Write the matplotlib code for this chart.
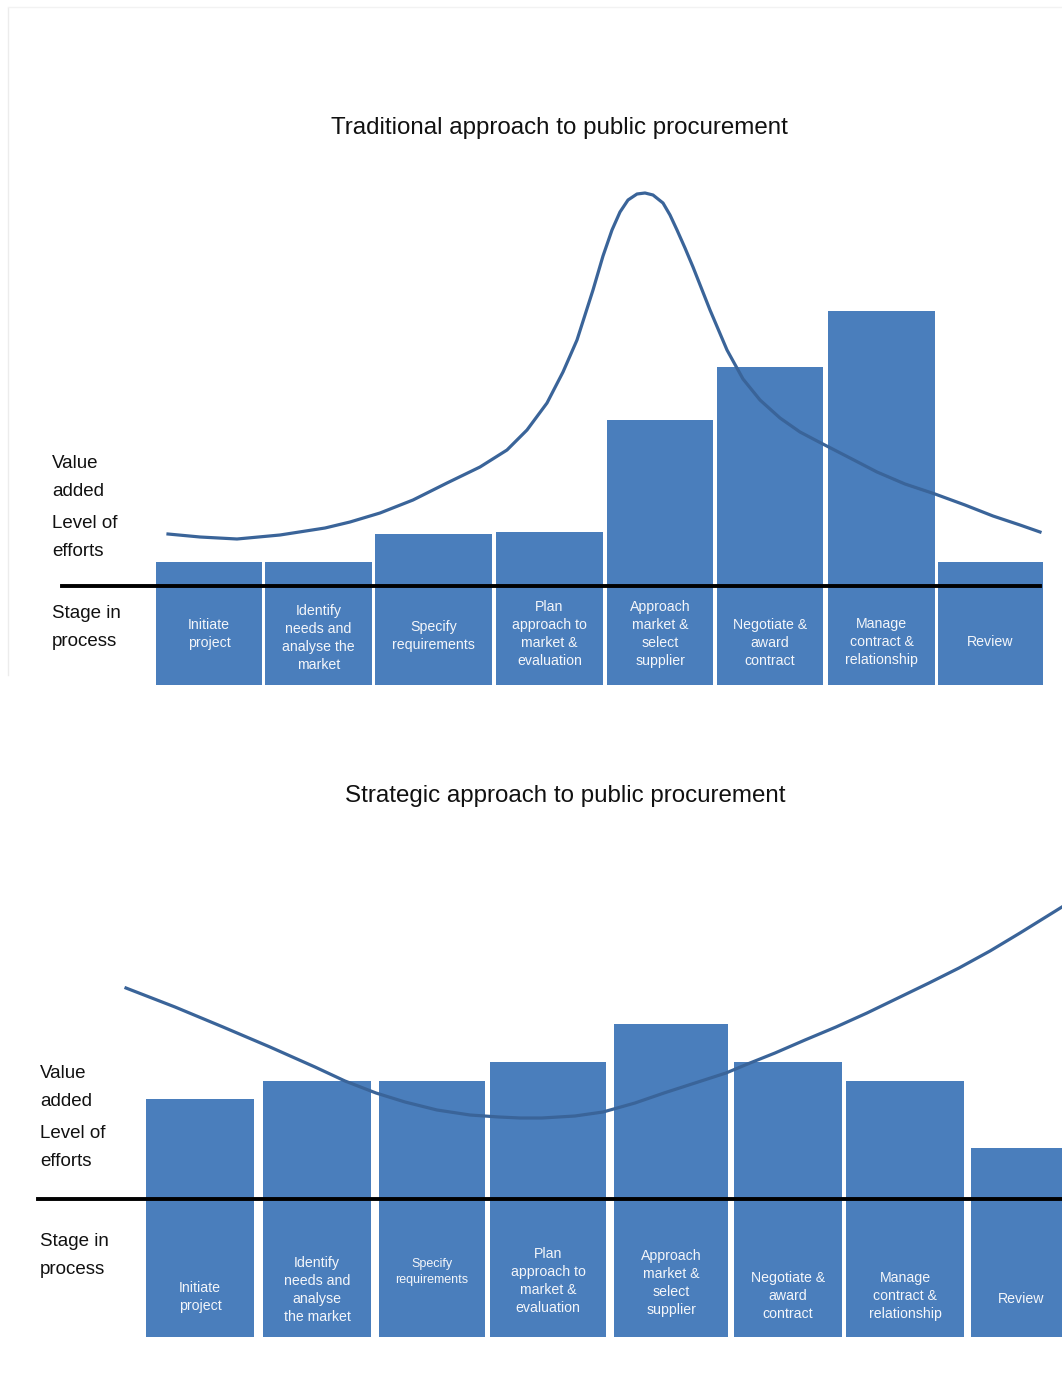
import matplotlib.pyplot as plt

# stage names (same eight stages in both diagrams)
stages_top = ["Initiate\nproject", "Identify\nneeds and\nanalyse the\nmarket",
              "Specify\nrequirements", "Plan\napproach to\nmarket &\nevaluation",
              "Approach\nmarket &\nselect\nsupplier", "Negotiate &\naward\ncontract",
              "Manage\ncontract &\nrelationship", "Review"]
stages_bottom = ["Initiate\nproject", "Identify\nneeds and\nanalyse\nthe market",
                 "Specify\nrequirements", "Plan\napproach to\nmarket &\nevaluation",
                 "Approach\nmarket &\nselect\nsupplier", "Negotiate &\naward\ncontract",
                 "Manage\ncontract &\nrelationship", "Review"]

# level of effort per stage (height above the process line)
effort_trad = [24, 24, 52, 54, 166, 219, 275, 24]
effort_strat = [100, 118, 118, 137, 175, 137, 118, 51]

# value-added curves
trad_x = [168, 200, 237, 280, 325, 350, 380, 413, 447, 480, 507, 527, 547, 563,
          577, 593, 603, 612, 620, 628, 637, 645, 653, 663, 670, 677, 685, 693,
          710, 727, 743, 760, 780, 800, 819, 850, 877, 905, 935, 965, 993, 1020, 1040]
trad_val = [52, 49, 47, 51, 58, 64, 73, 86, 103, 119, 136, 156, 183, 214,
            246, 296, 330, 356, 374, 386, 392, 393, 391, 383, 371, 356, 338, 319,
            276, 236, 207, 186, 168, 154, 144, 128, 114, 102, 92, 81, 70, 61, 54]
strat_x = [126, 175, 223, 270, 315, 345, 376, 405, 437, 470, 499, 520, 542, 575,
           603, 635, 664, 695, 726, 750, 775, 805, 836, 867, 898, 929, 959, 990,
           1020, 1070]
strat_val = [211, 192, 172, 152, 132, 118, 106, 97, 89, 84, 82, 81, 81, 83,
             87, 96, 106, 116, 126, 136, 146, 159, 172, 186, 201, 216, 231, 248,
             266, 297]

# bar layout (pixel units)
left_top = [156, 265, 375, 496, 607, 717, 828, 938]
width_top = [106, 107, 117, 107, 106, 106, 107, 105]
left_bot = [146, 263, 379, 490, 614, 734, 846, 971]
width_bot = [108, 108, 106, 116, 114, 108, 118, 100]

plt.rcParams["font.family"] = "Liberation Sans"

BAR = "#4a7ebc"
CURVE = "#3a6499"

W, H = 1062, 1396
fig = plt.figure(figsize=(W / 100, H / 100), dpi=100)

# faint frame round the upper diagram
fig.add_artist(plt.Line2D([8 / W, 8 / W], [1 - 8 / H, 1 - 675 / H], color="#ececec", lw=1))
fig.add_artist(plt.Line2D([8 / W, 1], [1 - 7 / H, 1 - 7 / H], color="#f2f2f2", lw=1))


def panel(row0, row1, base_row, title, title_x, title_row, stages, effort, lefts, widths,
          box_bottom, cx, cy, line_x0, line_x1, label_x, label_rows, stage_rows, small=None):
    ax = fig.add_axes([0, 1 - row1 / H, 1, (row1 - row0) / H])
    ax.set_xlim(0, W)
    ax.set_ylim(base_row - row1, base_row - row0)
    ax.axis("off")
    heights = [e - box_bottom for e in effort]
    ax.bar(lefts, heights, width=widths, bottom=box_bottom, align="edge",
           color=BAR, edgecolor="none", zorder=1)
    ax.plot([line_x0, line_x1], [0, 0], color="black", lw=2.8, zorder=3)
    ax.plot(cx, cy, color=CURVE, lw=2.3, solid_joinstyle="round", zorder=2)
    ax.text(title_x, base_row - title_row, title, ha="center", va="center",
            fontsize=17.4, color="#111111")
    words = ["Value", "added", "Level of", "efforts", "Stage in", "process"]
    for w, r in zip(words, label_rows):
        ax.text(label_x, base_row - r, w, ha="left", va="center", fontsize=13.5,
                color="#111111")
    for i, (s, l, wd) in enumerate(zip(stages, lefts, widths)):
        fs, ls = 10.2, 1.34
        if small is not None and i == small:
            fs, ls = 9.0, 1.4
        ax.text(l + wd / 2, base_row - stage_rows[i], s, ha="center", va="center",
                fontsize=fs, color="#f4f6fa", linespacing=ls)
    return ax


panel(0, 700, 586, "Traditional approach to public procurement", 559, 128,
      stages_top, effort_trad, left_top, width_top, -99, trad_x, trad_val,
      62, 1040, 52, [464, 491, 524, 552, 614, 641],
      [634, 638, 636, 634, 634, 643, 642, 642])

panel(700, 1396, 1199, "Strategic approach to public procurement", 565, 796,
      stages_bottom, effort_strat, left_bot, width_bot, -138, strat_x, strat_val,
      38, 1070, 40, [1073, 1101, 1134, 1162, 1242, 1270],
      [1297, 1290, 1272, 1281, 1283, 1296, 1296, 1299], small=2)

fig.savefig("out.png", dpi=100, facecolor="white")
